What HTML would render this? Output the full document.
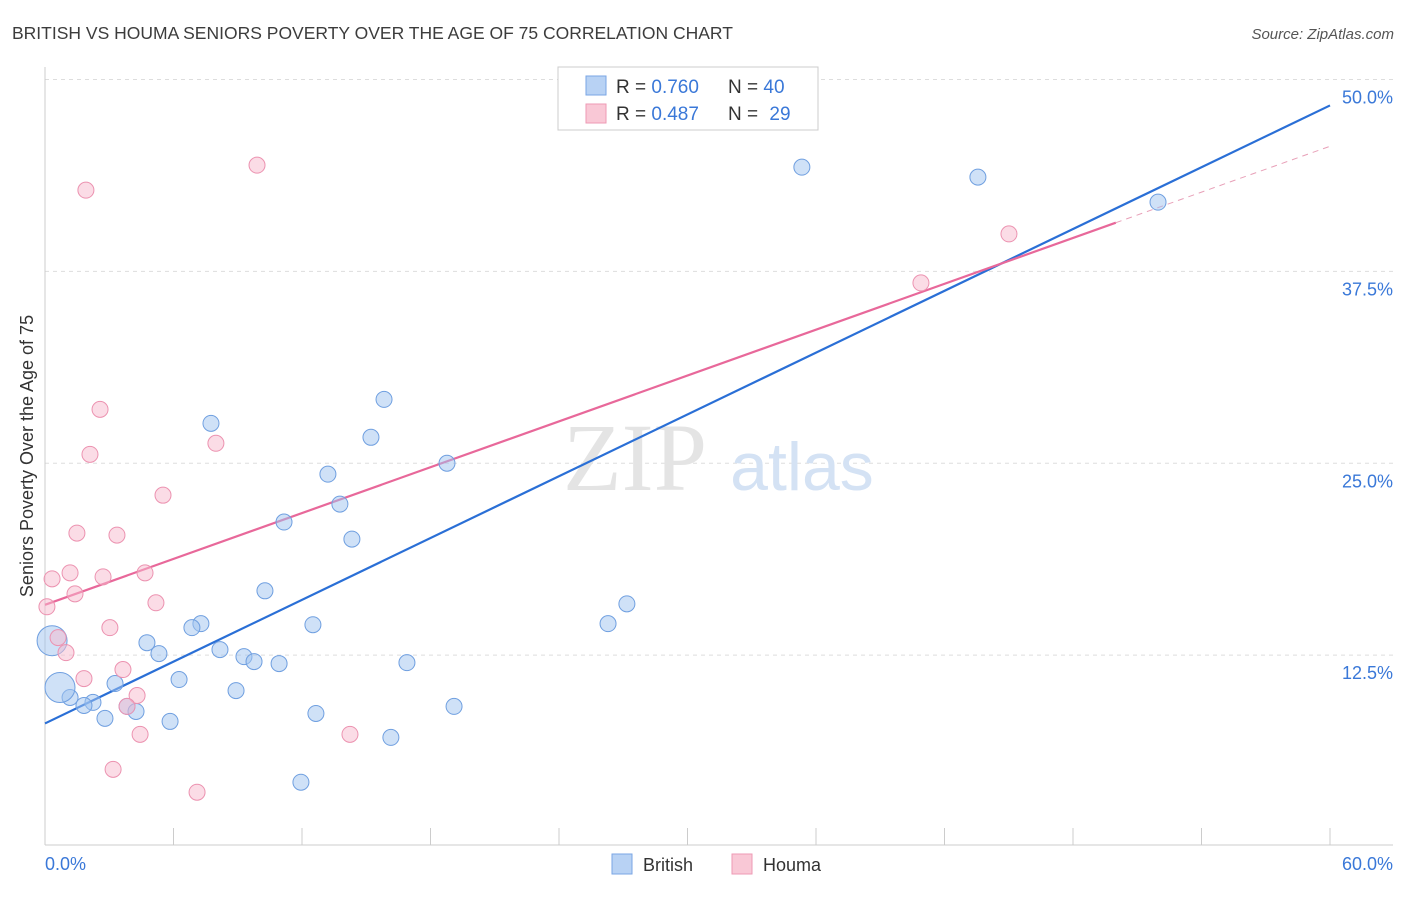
<!DOCTYPE html>
<html><head><meta charset="utf-8"><style>
body{margin:0;background:#fff;font-family:"Liberation Sans",sans-serif;}
</style></head><body>
<svg id="chart" width="1406" height="892" viewBox="0 0 1406 892" xmlns="http://www.w3.org/2000/svg">
<text x="12" y="39" font-size="17.5" fill="#3c3c3c">BRITISH VS HOUMA SENIORS POVERTY OVER THE AGE OF 75 CORRELATION CHART</text>
<text x="1394" y="39" font-size="15" fill="#555" font-style="italic" text-anchor="end">Source: ZipAtlas.com</text>
<g id="grid"></g>
<text x="635" y="490" font-size="96" fill="#e4e4e4" font-family="Liberation Serif,serif" text-anchor="middle">ZIP</text>
<text x="802" y="490" font-size="68" fill="#d4e2f4" text-anchor="middle">atlas</text>
<line x1="45" y1="67" x2="45" y2="845" stroke="#ccc"/>
<line x1="45" y1="845" x2="1393" y2="845" stroke="#ccc"/>
<g id="xticks"></g>
<text x="27" y="462" font-size="18" fill="#333" text-anchor="middle" transform="rotate(-90 27 456)">Seniors Poverty Over the Age of 75</text>
<text x="45" y="870" font-size="18" fill="#3a78d8">0.0%</text>
<text x="1393" y="870" font-size="18" fill="#3a78d8" text-anchor="end">60.0%</text>
<g id="lines"></g>
<g id="pts"></g>
<g>
<rect x="558" y="67" width="260" height="63" fill="#fff" stroke="#ccc"/>
<rect x="586" y="76" width="20" height="19" fill="#b8d2f4" stroke="#7aa6e4"/>
<rect x="586" y="104" width="20" height="19" fill="#f9c8d6" stroke="#ee9ab4"/>
<text x="616" y="93" font-size="19" fill="#333">R = <tspan fill="#3a78d8">0.760</tspan></text>
<text x="728" y="93" font-size="19" fill="#333">N = <tspan fill="#3a78d8">40</tspan></text>
<text x="616" y="120" font-size="19" fill="#333">R = <tspan fill="#3a78d8">0.487</tspan></text>
<text x="728" y="120" font-size="19" fill="#333">N = <tspan fill="#3a78d8" dx="6">29</tspan></text>
</g>
<g>
<rect x="612" y="854" width="20" height="20" fill="#b8d2f4" stroke="#7aa6e4"/>
<text x="643" y="871" font-size="18" fill="#333">British</text>
<rect x="732" y="854" width="20" height="20" fill="#f9c8d6" stroke="#ee9ab4"/>
<text x="763" y="871" font-size="18" fill="#333">Houma</text>
</g>
</svg>
<script>
const yTicks=[12.5,25,37.5,50];
const yTickLabels=["12.5%","25.0%","37.5%","50.0%"];
const britishX=[35.34,43.56,51.97,15.83,7.75,15.22,18.77,13.21,13.77,11.16,14.33,10.27,27.17,26.29,12.51,7.28,6.86,4.76,5.32,8.17,9.29,9.76,10.93,16.90,6.26,3.27,8.92,1.17,2.24,1.82,3.83,4.25,2.80,5.84,12.65,19.10,16.15,11.95,0.33,0.70];
const britishY=[44.29,43.64,42.01,29.16,27.60,26.69,25.00,24.29,22.34,21.17,20.06,16.69,15.84,14.55,14.48,14.55,14.29,13.31,12.60,12.86,12.40,12.08,11.95,12.01,10.91,10.65,10.19,9.74,9.42,9.22,9.16,8.83,8.38,8.18,8.70,9.16,7.14,4.22,13.44,10.39];
const britishBig=[38,39];
const houmaX=[9.90,1.91,45.01,40.90,2.57,7.98,2.10,5.51,1.49,3.36,1.17,0.33,2.71,4.67,1.40,5.18,0.09,3.03,0.61,0.98,3.64,1.82,4.30,3.83,4.44,14.24,3.18,7.10];
const houmaY=[44.42,42.79,39.94,36.75,28.51,26.30,25.58,22.92,20.45,20.32,17.86,17.47,17.60,17.86,16.49,15.91,15.65,14.29,13.64,12.66,11.56,10.97,9.87,9.16,7.34,7.34,5.06,3.57];
const britishTrend=[8.05,48.31];
const houmaTrend=[15.78,45.65];
const houmaSolidEnd=50;
const NS="http://www.w3.org/2000/svg";
const X=v=>45+v/60*1285, Y=v=>847-v*15.35;
function mk(t,a,p){const e=document.createElementNS(NS,t);for(const k in a)e.setAttribute(k,a[k]);p.appendChild(e);return e;}
const grid=document.getElementById('grid');
yTicks.forEach((t,i)=>{
 const l=mk('line',{x1:45,x2:1393,y1:Y(t),y2:Y(t),stroke:'#ddd','stroke-dasharray':'4 4'},grid);
 
 
 const tx=mk('text',{x:1393,y:Y(t)+24,'font-size':18,fill:'#3a78d8','text-anchor':'end'},grid);
 tx.textContent=yTickLabels[i];
 
 
});
const xt=document.getElementById('xticks');
for(let i=1;i<=10;i++){const l=mk('line',{x1:X(i*6),x2:X(i*6),y1:828,y2:845,stroke:'#ccc'},xt);
 
 }
const pts=document.getElementById('pts');
britishX.forEach((x,i)=>{const big=britishBig.includes(i);
 const c=mk('circle',{cx:X(x),cy:Y(britishY[i]),r:big?15:8,fill:'rgba(160,195,240,0.5)',stroke:'#6f9fe0','stroke-width':1},pts);
 
 });
houmaX.forEach((x,i)=>{
 const c=mk('circle',{cx:X(x),cy:Y(houmaY[i]),r:8,fill:'rgba(248,185,205,0.5)',stroke:'#ec92b0','stroke-width':1},pts);
 
 });
const lines=document.getElementById('lines');
const hAt=v=>houmaTrend[0]+(houmaTrend[1]-houmaTrend[0])*v/60;
let l1=mk('line',{x1:X(0),y1:Y(britishTrend[0]),x2:X(60),y2:Y(britishTrend[1]),stroke:'#2a6fd6','stroke-width':2.2},lines);


let l2=mk('line',{x1:X(0),y1:Y(hAt(0)),x2:X(houmaSolidEnd),y2:Y(hAt(houmaSolidEnd)),stroke:'#e8689a','stroke-width':2.2},lines);


let l3=mk('line',{x1:X(houmaSolidEnd),y1:Y(hAt(houmaSolidEnd)),x2:X(60),y2:Y(hAt(60)),stroke:'#e8a0b8','stroke-width':1,'stroke-dasharray':'6 5'},lines);


</script>
</body></html>
